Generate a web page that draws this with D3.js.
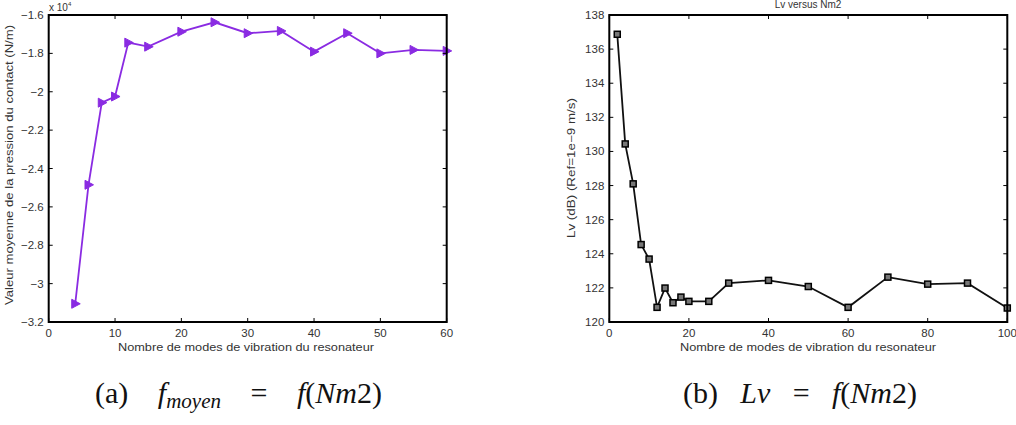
<!DOCTYPE html>
<html><head><meta charset="utf-8">
<script src="https://cdn.jsdelivr.net/npm/d3@7"></script>
<style>
body{margin:0;background:#fff;}
svg{display:block;font-family:"Liberation Sans",Arial,sans-serif;}
.cap{font-family:"Liberation Serif","Times New Roman",Times,serif;}
</style></head>
<body><svg id="c" width="1016" height="425"></svg>
<script>
// Chart (a): mean contact pressure vs number of modes
const modesA = [4, 6, 8, 10, 12, 15, 20, 25, 30, 35, 40, 45, 50, 55, 60];
const pressureA = [-31050, -24850, -20570, -20250, -17440, -17650, -16870, -16380, -16950, -16830, -17910, -16950, -18000, -17820, -17870];
const ticksAX = [0, 10, 20, 30, 40, 50, 60];
const ticksAY = [-16000, -18000, -20000, -22000, -24000, -26000, -28000, -30000, -32000];

// Chart (b): Lv vs number of modes
const modesB = [2, 4, 6, 8, 10, 12, 14, 16, 18, 20, 25, 30, 40, 50, 60, 70, 80, 90, 100];
const lvB = [136.87, 130.44, 128.1, 124.54, 123.69, 120.86, 121.99, 121.13, 121.46, 121.21, 121.21, 122.28, 122.44, 122.08, 120.86, 122.63, 122.22, 122.28, 120.82];
const ticksBX = [0, 20, 40, 60, 80, 100];
const ticksBY = [120, 122, 124, 126, 128, 130, 132, 134, 136, 138];

const svg = d3.select("#c");
const plotTop = 15, plotBottom = 322;

function fmtMinus(s){ return s.replace("-", "\u2212"); }

function drawFrame(g, x, y, xt, yt, xfmt, yfmt){
  const [x0, x1] = x.range(), [y0, y1] = y.range();
  const tl = 4;
  g.selectAll(".xtb").data(xt).join("line").attr("class","xtb")
    .attr("x1", d => x(d)).attr("x2", d => x(d)).attr("y1", y0).attr("y2", y0 - tl)
    .attr("stroke", "#000").attr("stroke-width", 1);
  g.selectAll(".xtt").data(xt).join("line").attr("class","xtt")
    .attr("x1", d => x(d)).attr("x2", d => x(d)).attr("y1", y1).attr("y2", y1 + tl)
    .attr("stroke", "#000").attr("stroke-width", 1);
  g.selectAll(".ytl").data(yt).join("line").attr("class","ytl")
    .attr("x1", x0).attr("x2", x0 + tl).attr("y1", d => y(d)).attr("y2", d => y(d))
    .attr("stroke", "#000").attr("stroke-width", 1);
  g.selectAll(".ytr").data(yt).join("line").attr("class","ytr")
    .attr("x1", x1).attr("x2", x1 - tl).attr("y1", d => y(d)).attr("y2", d => y(d))
    .attr("stroke", "#000").attr("stroke-width", 1);
  g.append("rect").attr("x", x0).attr("y", y1).attr("width", x1 - x0).attr("height", y0 - y1)
    .attr("fill", "none").attr("stroke", "#000").attr("stroke-width", 2);
  g.selectAll(".xl").data(xt).join("text").attr("class","xl")
    .attr("x", d => x(d)).attr("y", y0 + 15).attr("text-anchor", "middle")
    .attr("font-size", 11.5).attr("fill", "#333").text(xfmt);
  g.selectAll(".yl").data(yt).join("text").attr("class","yl")
    .attr("x", x0 - 5).attr("y", d => y(d) + 4).attr("text-anchor", "end")
    .attr("font-size", 11.5).attr("fill", "#333").text(yfmt);
}

// ---- Chart A
{
  const x = d3.scaleLinear().domain([0, 60]).range([48.7, 446.7]);
  const y = d3.scaleLinear().domain([-32000, -16000]).range([plotBottom, plotTop]);
  const g = svg.append("g");
  const line = d3.line().x((d, i) => x(modesA[i])).y(d => y(d));
  const col = "#8a2be2";
  g.append("path").datum(pressureA).attr("d", line).attr("fill", "none")
    .attr("stroke", col).attr("stroke-width", 1.8);
  const tri = "M-3.5,-4.5L5,0L-3.5,4.5Z";
  g.selectAll(".m").data(pressureA).join("path").attr("class","m")
    .attr("transform", (d, i) => `translate(${x(modesA[i])},${y(d)})`)
    .attr("d", tri).attr("fill", col).attr("stroke", col).attr("stroke-width", 1);
  drawFrame(g, x, y, ticksAX, ticksAY, d => d, d => fmtMinus(String(d / 10000)));
  const ex = g.append("text").attr("x", 49).attr("y", 11).attr("font-size", 10).attr("fill", "#333");
  ex.append("tspan").text("x 10");
  ex.append("tspan").attr("font-size", 6).attr("dy", -5).text("4");
  g.append("text").attr("x", 246).attr("y", 351).attr("text-anchor", "middle")
    .attr("font-size", 10.5).attr("fill", "#333")
    .attr("textLength", 256).attr("lengthAdjust", "spacingAndGlyphs")
    .text("Nombre de modes de vibration du resonateur");
  g.append("text").attr("transform", "translate(13,165) rotate(-90)").attr("text-anchor", "middle")
    .attr("font-size", 10.5).attr("fill", "#333")
    .attr("textLength", 280).attr("lengthAdjust", "spacingAndGlyphs")
    .text("Valeur moyenne de la pression du contact (N/m)");
}

// ---- Chart B
{
  const x = d3.scaleLinear().domain([0, 100]).range([609.3, 1007.3]);
  const y = d3.scaleLinear().domain([120, 138]).range([plotBottom, plotTop]);
  const g = svg.append("g");
  const line = d3.line().x((d, i) => x(modesB[i])).y(d => y(d));
  g.append("path").datum(lvB).attr("d", line).attr("fill", "none")
    .attr("stroke", "#111").attr("stroke-width", 1.8);
  g.selectAll(".m").data(lvB).join("rect").attr("class","m")
    .attr("x", (d, i) => x(modesB[i]) - 3).attr("y", d => y(d) - 3)
    .attr("width", 6).attr("height", 6)
    .attr("fill", "#777").attr("stroke", "#000").attr("stroke-width", 1.5);
  drawFrame(g, x, y, ticksBX, ticksBY, d => d, d => d);
  g.append("text").attr("x", 808).attr("y", 8).attr("text-anchor", "middle")
    .attr("font-size", 10).attr("fill", "#333").text("Lv versus Nm2");
  g.append("text").attr("x", 808).attr("y", 351).attr("text-anchor", "middle")
    .attr("font-size", 10.5).attr("fill", "#333")
    .attr("textLength", 256).attr("lengthAdjust", "spacingAndGlyphs")
    .text("Nombre de modes de vibration du resonateur");
  g.append("text").attr("transform", "translate(575,168) rotate(-90)").attr("text-anchor", "middle")
    .attr("font-size", 10.5).attr("fill", "#333")
    .attr("textLength", 140).attr("lengthAdjust", "spacingAndGlyphs")
    .text("Lv (dB) (Ref=1e\u22129 m/s)");
}

// ---- Captions: the gaps take the remaining room so glyphs keep natural spacing
function caption(xc, width, parts){
  const fs = 30;
  const t = svg.append("text").attr("class", "cap").attr("x", xc).attr("y", 403)
    .attr("font-size", fs).attr("fill", "#111");
  const gaps = [];
  parts.forEach(p => {
    const s = t.append("tspan").text(p.t);
    if (p.i) s.attr("font-style", "italic");
    if (p.fs) s.attr("font-size", p.fs);
    if (p.dy) s.attr("dy", p.dy);
    if (p.g) gaps.push(s);
  });
  const bb = t.node().getBBox().width;
  const gap = Math.max(3, (width - bb) / gaps.length);
  gaps.forEach(s => s.attr("dx", gap));
}
caption(95, 287, [{t:"(a)"},{t:"f",i:1,g:1},{t:"moyen",i:1,fs:21,dy:5},{t:"=",g:1,dy:-5},{t:"f",i:1,g:1},{t:"("},{t:"Nm",i:1},{t:"2)"}]);
caption(683, 234, [{t:"(b)"},{t:"Lv",i:1,g:1},{t:"=",g:1},{t:"f",i:1,g:1},{t:"("},{t:"Nm",i:1},{t:"2)"}]);
</script></body></html>
